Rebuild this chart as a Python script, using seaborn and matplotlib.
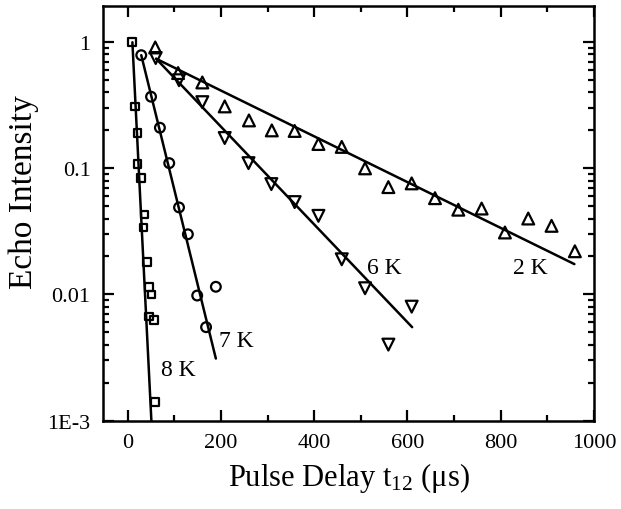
import matplotlib
matplotlib.use("Agg")
import matplotlib.pyplot as plt
import matplotlib.ticker as mticker
import numpy as np
import pandas as pd
import seaborn as sns

# Echo decay measurements at four temperatures (delay in microseconds)
t_8K = [9, 16, 21, 21, 29, 36, 34, 41, 46, 51, 46, 57, 58]
I_8K = [1.0, 0.31, 0.19, 0.108, 0.084, 0.043, 0.034, 0.018, 0.0115, 0.0100, 0.0067, 0.0063, 0.0014]

t_7K = [29, 50, 69, 89, 110, 129, 149, 168, 189]
I_7K = [0.79, 0.37, 0.21, 0.11, 0.049, 0.030, 0.0098, 0.0055, 0.0115]

t_6K = [60, 110, 160, 208, 259, 308, 358, 409, 459, 509, 559, 609]
I_6K = [0.75, 0.50, 0.335, 0.174, 0.110, 0.075, 0.054, 0.042, 0.019, 0.0112, 0.0040, 0.0080]

t_2K = [59, 108, 160, 208, 260, 309, 358, 409, 459, 509, 559, 609, 659, 709, 759, 809, 859, 909, 959]
I_2K = [0.91, 0.57, 0.48, 0.31, 0.24, 0.20, 0.198, 0.156, 0.148, 0.100, 0.071, 0.076,
        0.058, 0.047, 0.048, 0.031, 0.040, 0.035, 0.022]

# Exponential fit lines (endpoints)
fit_8K_t = [10, 52]
fit_8K_I = [1.0, 0.0008]
fit_7K_t = [29, 189]
fit_7K_I = [0.79, 0.0031]
fit_6K_t = [61, 610]
fit_6K_I = [0.74, 0.0055]
fit_2K_t = [61, 958]
fit_2K_I = [0.74, 0.0174]

labels = ["8 K", "7 K", "6 K", "2 K"]
label_t = [108, 233, 551, 863]
label_I = [0.00255, 0.0043, 0.0164, 0.0164]

sns.set_theme(style="ticks")
plt.rcParams["font.family"] = ["Liberation Serif", "DejaVu Serif"]
plt.rcParams["mathtext.fontset"] = "custom"
plt.rcParams["mathtext.rm"] = "Liberation Serif"
plt.rcParams["mathtext.it"] = "Liberation Serif:italic"
plt.rcParams["text.color"] = "black"
plt.rcParams["axes.labelcolor"] = "black"
plt.rcParams["xtick.color"] = "black"
plt.rcParams["ytick.color"] = "black"

fig = plt.figure(figsize=(6.21, 5.10), dpi=100)
ax = fig.add_axes([0.1659, 0.1735, 0.7906, 0.8128])

series = [
    (t_8K, I_8K, "s", 5.5, fit_8K_t, fit_8K_I),
    (t_7K, I_7K, "o", 7.0, fit_7K_t, fit_7K_I),
    (t_6K, I_6K, "v", 8.5, fit_6K_t, fit_6K_I),
    (t_2K, I_2K, "^", 8.5, fit_2K_t, fit_2K_I),
]

for t, I, mk, ms, ft, fI in series:
    df = pd.DataFrame({"t": t, "I": I})
    sns.scatterplot(data=df, x="t", y="I", ax=ax, marker=mk, s=ms ** 2,
                    facecolor="none", edgecolor="black", linewidth=1.6, zorder=3)
    fdf = pd.DataFrame({"t": ft, "I": fI})
    sns.lineplot(data=fdf, x="t", y="I", ax=ax, color="black", linewidth=1.8,
                 zorder=2, estimator=None, sort=False)

for lab, x, y in zip(labels, label_t, label_I):
    ax.text(x, y, lab, fontsize=17, ha="center", va="center", color="black")

ax.set_yscale("log")
ax.set_xlim(-53, 1000)
ax.set_ylim(1e-3, 1.94)

ax.xaxis.set_major_locator(mticker.MultipleLocator(200))
ax.xaxis.set_minor_locator(mticker.MultipleLocator(100))
ax.yaxis.set_major_locator(mticker.FixedLocator([1e-3, 1e-2, 1e-1, 1]))
ax.yaxis.set_minor_locator(mticker.LogLocator(base=10, subs=np.arange(2, 10)))
ax.yaxis.set_major_formatter(mticker.FixedFormatter(["1E-3", "0.01", "0.1", "1"]))
ax.yaxis.set_minor_formatter(mticker.NullFormatter())

ax.tick_params(which="both", direction="in", top=True, right=True, colors="black",
               labelsize=16, width=1.6)
ax.tick_params(which="major", length=8, pad=9)
ax.tick_params(which="minor", length=4)

for sp in ax.spines.values():
    sp.set_linewidth(1.8)
    sp.set_color("black")

ax.set_xlabel("Pulse Delay t$_{12}$ (μs)", fontsize=22, labelpad=6)
ax.set_ylabel("Echo Intensity", fontsize=24)
ax.yaxis.set_label_coords(-0.131, 0.553)

fig.savefig("out.png", dpi=100)
